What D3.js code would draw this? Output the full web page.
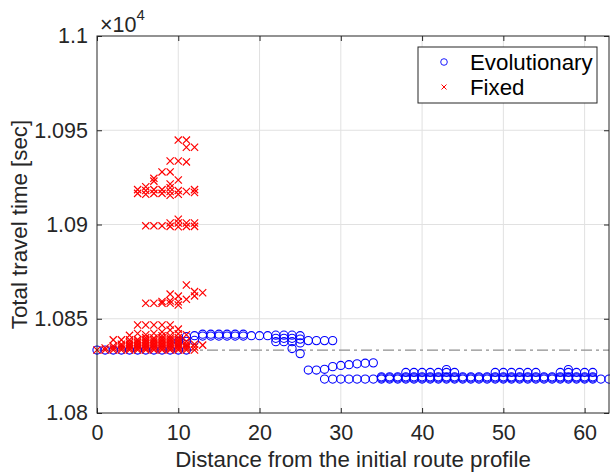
<!DOCTYPE html>
<html>
<head>
<meta charset="utf-8">
<script src="https://cdn.jsdelivr.net/npm/d3@7"></script>
<style>
  html, body { margin: 0; padding: 0; background: #fff; }
  svg { display: block; font-family: "Liberation Sans", Arial, Helvetica, sans-serif; }
</style>
</head>
<body>
<svg id="chart" width="610" height="475"></svg>
<script>
// Axis ticks
const xTicks = [0, 10, 20, 30, 40, 50, 60];
const yTicks = [10800, 10850, 10900, 10950, 11000];
const yTickLabels = ["1.08", "1.085", "1.09", "1.095", "1.1"];

// Travel time of the initial route profile (reference line)
const initialTime = 10833.4;

// Evolutionary solutions: [distance, total travel time]
const evoStart = [
  [0, 10833.4], [1, 10833.4], [2, 10833.4], [3, 10833.4], [4, 10833.4], [5, 10833.4],
  [6, 10833.4], [7, 10833.4], [8, 10833.4], [9, 10833.4], [10, 10833.4], [11, 10833.4],
  [10, 10838], [11, 10838], [11, 10840.5], [12, 10838.5], [12, 10841]
];
const evoPlateau = [
  [13, 10840.8], [13, 10841.8], [14, 10840.8], [14, 10841.8], [15, 10840.8], [15, 10841.8],
  [16, 10840.8], [16, 10841.8], [17, 10840.8], [17, 10841.8], [18, 10840.8], [18, 10841.8],
  [19, 10841], [20, 10841], [21, 10841],
  [22, 10837.8], [22, 10839.6], [22, 10841.3],
  [23, 10837.8], [23, 10839.6], [23, 10841.3],
  [24, 10837.8], [24, 10839.6], [24, 10841.3], [24, 10834.2],
  [25, 10837.2], [25, 10839.2], [25, 10841], [25, 10831.5],
  [26, 10838.4], [27, 10838.4], [28, 10838.4], [29, 10838.4]
];
const evoDrop = [
  [26, 10822.8], [27, 10822.8], [28, 10823.2], [29, 10824.6], [30, 10825.2],
  [31, 10825.6], [32, 10826.1], [33, 10826.4], [34, 10826.6]
];
const evoFinal = [
  [28, 10818], [29, 10818], [30, 10818], [31, 10818], [32, 10818], [33, 10818], [34, 10818],
  [35, 10818], [36, 10818], [37, 10818], [38, 10818], [39, 10818], [40, 10818], [41, 10818],
  [42, 10818], [43, 10818], [44, 10818], [45, 10818], [46, 10818], [47, 10818], [48, 10818],
  [49, 10818], [50, 10818], [51, 10818], [52, 10818], [53, 10818], [54, 10818], [55, 10818],
  [56, 10818], [57, 10818], [58, 10818], [59, 10818], [60, 10818], [61, 10818], [62, 10818],
  [63, 10818],
  [35, 10818.6], [36, 10818.6], [37, 10818.6], [38, 10818.6], [39, 10818.6], [40, 10818.6],
  [41, 10818.6], [42, 10818.6], [43, 10818.6], [44, 10818.6], [45, 10818.6], [46, 10818.6],
  [47, 10818.6], [48, 10818.6], [49, 10818.6], [50, 10818.6], [51, 10818.6], [52, 10818.6],
  [53, 10818.6], [54, 10818.6], [55, 10818.6], [56, 10818.6], [57, 10818.6], [58, 10818.6],
  [59, 10818.6], [60, 10818.6], [61, 10818.6],
  [35, 10819.2], [36, 10819.2], [37, 10819.2], [38, 10819.2], [39, 10819.2], [40, 10819.2],
  [41, 10819.2], [42, 10819.2], [43, 10819.2], [44, 10819.2], [45, 10819.2], [46, 10819.2],
  [47, 10819.2], [48, 10819.2], [49, 10819.2], [50, 10819.2], [51, 10819.2], [52, 10819.2],
  [53, 10819.2], [54, 10819.2], [55, 10819.2], [56, 10819.2], [57, 10819.2], [58, 10819.2],
  [59, 10819.2], [60, 10819.2], [61, 10819.2],
  [38, 10821.5], [39, 10821.5], [40, 10821.5], [41, 10821.5], [42, 10821.5], [43, 10821.5],
  [44, 10821.5], [49, 10821.5], [50, 10821.5], [51, 10821.5], [52, 10821.5], [53, 10821.5],
  [54, 10821.5], [57, 10821.5], [58, 10821.5], [59, 10821.5], [60, 10821.5], [61, 10821.5],
  [43, 10823], [58, 10823]
];

// Fixed solutions: [distance, total travel time]
const fixedBase = [
  [0, 10833.4],
  [1, 10833.4], [1, 10834.5],
  [2, 10833.4], [2, 10834.5], [2, 10835.5], [2, 10838.8],
  [3, 10833.4], [3, 10834.5], [3, 10835.5], [3, 10836.5], [3, 10838.8],
  [4, 10833.4], [4, 10834.2], [4, 10835], [4, 10835.8], [4, 10836.5], [4, 10837.5], [4, 10838.8], [4, 10841.2],
  [5, 10833.4], [5, 10834.2], [5, 10835], [5, 10835.8], [5, 10836.6], [5, 10837.4], [5, 10838.2], [5, 10839], [5, 10842.2],
  [6, 10833.4], [6, 10834.2], [6, 10835], [6, 10835.8], [6, 10836.6], [6, 10837.4], [6, 10838.2], [6, 10839], [6, 10840], [6, 10841.5],
  [7, 10833.4], [7, 10834.2], [7, 10835], [7, 10835.8], [7, 10836.6], [7, 10837.4], [7, 10838.2], [7, 10839], [7, 10839.8], [7, 10842.3],
  [8, 10833.4], [8, 10834.2], [8, 10835], [8, 10835.8], [8, 10836.6], [8, 10837.4], [8, 10838.2], [8, 10839], [8, 10839.8], [8, 10841], [8, 10843],
  [9, 10833.4], [9, 10834.2], [9, 10835], [9, 10835.8], [9, 10836.6], [9, 10837.4], [9, 10838.2], [9, 10839], [9, 10839.8], [9, 10841], [9, 10844],
  [10, 10833.4], [10, 10834.2], [10, 10835], [10, 10835.8], [10, 10836.6], [10, 10837.4], [10, 10838.2], [10, 10839], [10, 10840], [10, 10842], [10, 10844.5],
  [11, 10833.4], [11, 10834.5], [11, 10835.5], [11, 10836.5], [11, 10838], [11, 10841.5],
  [12, 10833.4], [12, 10835], [12, 10836.5],
  [13, 10836]
];
const fixedMid = [
  [5, 10846.7], [6, 10846.7], [7, 10846.7], [8, 10846.7], [9, 10846.7],
  [6, 10858.2], [7, 10858.2], [8, 10858.2], [8, 10859.2], [9, 10858.2], [9, 10859.5], [9, 10863.1],
  [10, 10857.3], [10, 10859], [10, 10862],
  [11, 10860.3], [11, 10867.9],
  [12, 10862.1], [12, 10864.4],
  [13, 10863.8]
];
const fixedUpper = [
  [6, 10899.3], [7, 10899.3], [8, 10899.3],
  [9, 10899], [9, 10900.8], [10, 10898.8], [10, 10900.8], [10, 10902.8],
  [11, 10899], [11, 10900.8], [12, 10899], [12, 10900.8],
  [5, 10916.5], [5, 10918.5], [6, 10916], [6, 10918], [6, 10920],
  [7, 10916.5], [7, 10918.5], [8, 10916.5], [8, 10918.5],
  [9, 10915.5], [9, 10917.5], [9, 10919.5], [9, 10921.5],
  [10, 10916], [10, 10918], [11, 10917.5], [12, 10917], [12, 10918.5],
  [7, 10923], [7, 10924.5], [10, 10923.6],
  [8, 10927.9], [9, 10927.9],
  [9, 10933.7], [10, 10933.7], [11, 10933.2],
  [10, 10944.8], [11, 10944.8], [11, 10941], [12, 10941]
];

const evolutionary = [...evoStart, ...evoPlateau, ...evoDrop, ...evoFinal];
const fixed = [...fixedBase, ...fixedMid, ...fixedUpper];

// Layout
const plot = { left: 97, right: 609, top: 36, bottom: 413 };
const axisColor = "#262626";
const gridColor = "#e1e1e1";
const tickFont = 21.5;
const labelFont = 22.3;

const svg = d3.select("#chart");

const x = d3.scaleLinear().domain([0, 63]).range([plot.left, plot.right]);
const y = d3.scaleLinear().domain([10800, 11000]).range([plot.bottom, plot.top]);

// Grid
const grid = svg.append("g");
grid.selectAll("line.gx").data(xTicks.filter(d => d > 0)).join("line")
  .attr("x1", d => x(d)).attr("x2", d => x(d))
  .attr("y1", plot.top).attr("y2", plot.bottom)
  .attr("stroke", gridColor).attr("stroke-width", 1);
grid.selectAll("line.gy").data(yTicks.filter(d => d > 10800 && d < 11000)).join("line")
  .attr("x1", plot.left).attr("x2", plot.right)
  .attr("y1", d => y(d)).attr("y2", d => y(d))
  .attr("stroke", gridColor).attr("stroke-width", 1);

// Reference line at the initial route's travel time
svg.append("line")
  .attr("x1", x(0)).attr("x2", x(63))
  .attr("y1", y(initialTime)).attr("y2", y(initialTime))
  .attr("stroke", "#8f8f8f").attr("stroke-width", 1.3)
  .attr("stroke-dasharray", "11,4,3,4");

// Evolutionary markers
svg.append("g").selectAll("circle").data(evolutionary).join("circle")
  .attr("cx", d => x(d[0])).attr("cy", d => y(d[1]))
  .attr("r", 4.1).attr("fill", "none")
  .attr("stroke", "#0000ff").attr("stroke-width", 1.05);

// Fixed markers
const cross = 3.6;
svg.append("g").selectAll("path").data(fixed).join("path")
  .attr("d", d => {
    const cx = x(d[0]), cy = y(d[1]);
    return `M${cx - cross},${cy - cross}L${cx + cross},${cy + cross}M${cx - cross},${cy + cross}L${cx + cross},${cy - cross}`;
  })
  .attr("fill", "none").attr("stroke", "#ff0000").attr("stroke-width", 1.2);

// Axes
const xAxis = d3.axisBottom(x).tickValues(xTicks).tickFormat(d3.format("d"))
  .tickSizeInner(-5).tickSizeOuter(0).tickPadding(12);
const gx = svg.append("g").attr("transform", `translate(0,${plot.bottom})`).call(xAxis);
gx.select(".domain").remove();
gx.selectAll(".tick line").attr("stroke", axisColor);
gx.selectAll(".tick text").attr("fill", axisColor).attr("font-size", tickFont)
  .attr("font-family", "Liberation Sans, Arial, sans-serif");

const yAxis = d3.axisLeft(y).tickValues(yTicks).tickFormat((d, i) => yTickLabels[i])
  .tickSizeInner(-5).tickSizeOuter(0).tickPadding(9);
const gy = svg.append("g").attr("transform", `translate(${plot.left},0)`).call(yAxis);
gy.select(".domain").remove();
gy.selectAll(".tick line").attr("stroke", axisColor);
gy.selectAll(".tick text").attr("fill", axisColor).attr("font-size", tickFont)
  .attr("font-family", "Liberation Sans, Arial, sans-serif");

// Mirror ticks on top and right
const xTop = d3.axisTop(x).tickValues(xTicks).tickFormat("").tickSizeInner(-5).tickSizeOuter(0);
svg.append("g").attr("transform", `translate(0,${plot.top})`).call(xTop)
  .call(g => g.select(".domain").remove())
  .selectAll(".tick line").attr("stroke", axisColor);
const yRight = d3.axisRight(y).tickValues(yTicks).tickFormat("").tickSizeInner(-5).tickSizeOuter(0);
svg.append("g").attr("transform", `translate(${plot.right},0)`).call(yRight)
  .call(g => g.select(".domain").remove())
  .selectAll(".tick line").attr("stroke", axisColor);

// Box
svg.append("rect")
  .attr("x", plot.left).attr("y", plot.top)
  .attr("width", plot.right - plot.left).attr("height", plot.bottom - plot.top)
  .attr("fill", "none").attr("stroke", axisColor).attr("stroke-width", 1);

// Exponent label
const expo = svg.append("text").attr("x", 100).attr("y", 32)
  .attr("fill", axisColor).attr("font-size", tickFont);
expo.append("tspan").text("\u00d710");
expo.append("tspan").attr("dy", -12).attr("font-size", 15).text("4");

// Axis titles
svg.append("text")
  .attr("x", (plot.left + plot.right) / 2).attr("y", 467)
  .attr("text-anchor", "middle").attr("fill", axisColor).attr("font-size", labelFont)
  .text("Distance from the initial route profile");
svg.append("text")
  .attr("transform", `translate(27,${(plot.top + plot.bottom) / 2}) rotate(-90)`)
  .attr("text-anchor", "middle").attr("fill", axisColor).attr("font-size", labelFont)
  .text("Total travel time [sec]");

// Legend
const legend = svg.append("g");
legend.append("rect")
  .attr("x", 418).attr("y", 47).attr("width", 179).attr("height", 56)
  .attr("fill", "#fff").attr("stroke", axisColor).attr("stroke-width", 1);
legend.append("circle").attr("cx", 444).attr("cy", 62).attr("r", 3.3)
  .attr("fill", "none").attr("stroke", "#0000ff").attr("stroke-width", 0.9);
legend.append("path")
  .attr("d", "M441.5,84.5L446.5,89.5M441.5,89.5L446.5,84.5")
  .attr("stroke", "#ff0000").attr("stroke-width", 1);
legend.append("text").attr("x", 470).attr("y", 69.5)
  .attr("fill", "#000").attr("font-size", labelFont).text("Evolutionary");
legend.append("text").attr("x", 470).attr("y", 95)
  .attr("fill", "#000").attr("font-size", labelFont).text("Fixed");
</script>
</body>
</html>
